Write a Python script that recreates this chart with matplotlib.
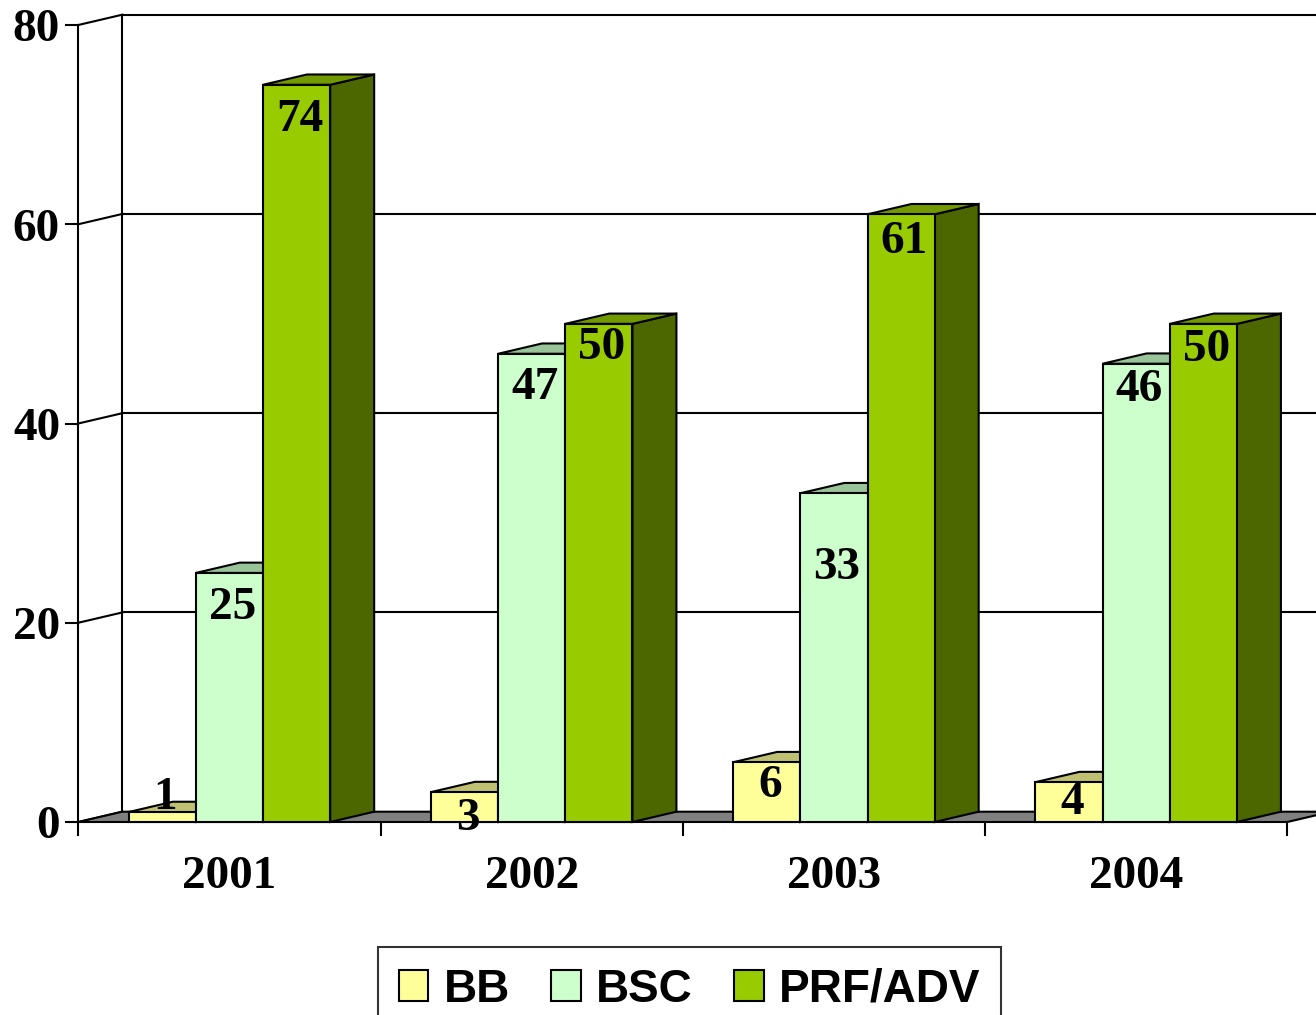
import matplotlib
matplotlib.use('Agg')
import matplotlib.pyplot as plt
from matplotlib.patches import Polygon, Patch

# ---------------- data ----------------
years = ['2001', '2002', '2003', '2004']
series_names = ['BB', 'BSC', 'PRF/ADV']
bb = [1, 3, 6, 4]
bsc = [25, 47, 33, 46]
prf = [74, 50, 61, 50]
y_ticks = [0, 20, 40, 60, 80]

# label vertical offsets (value units, label centre relative to bar top)
label_off = [[2.0, -2.2, -1.8, -1.5],
             [-3.0, -2.9, -7.0, -2.1],
             [-3.0, -1.9, -2.2, -2.1]]

# ---------------- style ----------------
front_colors = ['#FFFF99', '#CCFFCC', '#99CC00']
top_colors = ['#C0C073', '#99C499', '#739900']
side_colors = ['#99995C', '#7A997A', '#4C6600']
floor_color = '#808080'
serif = 'Liberation Serif'
sans = 'Liberation Sans'

W, H = 1316, 1015
fig = plt.figure(figsize=(W / 100, H / 100), dpi=100)
ax = fig.add_axes([0, 0, 1, 1])
ax.axis('off')

# pixel -> data mapping (front plane)
PX0, PXU = 78.3, 302.25     # x pixel of category 0, px per category
PY0, PYU = 822.0, 9.9625    # y pixel of value 0, px per value unit
def X(px):
    return (px - PX0) / PXU
def Y(py):
    return (PY0 - py) / PYU
ax.set_xlim(X(0), X(W))
ax.set_ylim(Y(H), Y(0))

DX = 44 / PXU     # depth offset (x)
DY = 10.3 / PYU   # depth offset (y)
LW = 1.5
ncat = len(years)
ymax = y_ticks[-1]

# ---------------- walls & floor ----------------
for v in y_ticks[1:]:
    ax.plot([DX, ncat + DX], [v + DY, v + DY], color='black', lw=LW, zorder=1)
for v in y_ticks:
    ax.plot([0, DX], [v, v + DY], color='black', lw=LW, zorder=1)
    ax.plot([X(66), 0], [v, v], color='black', lw=LW, zorder=1)
ax.plot([DX, DX], [DY, ymax + DY], color='black', lw=LW, zorder=1)
ax.plot([0, 0], [0, ymax], color='black', lw=LW, zorder=1)
floor = Polygon([(0, 0), (ncat, 0), (ncat + DX, DY), (DX, DY)], closed=True,
                facecolor=floor_color, edgecolor='black', lw=LW, zorder=2)
ax.add_patch(floor)
for i in range(ncat + 1):
    ax.plot([i, i], [0, Y(835)], color='black', lw=LW, zorder=2)

# tick labels
for v in y_ticks:
    ax.text(X(60), v - 1.65, str(v), ha='right', va='baseline',
            fontsize=34, fontweight='bold', family=serif, zorder=5)
for i, yr in enumerate(years):
    ax.text(i + 0.5, Y(888), yr, ha='center', va='baseline',
            fontsize=34, fontweight='bold', family=serif, zorder=5)

# ---------------- bars ----------------
data = [bb, bsc, prf]
w = 1.0 / (len(series_names) + 1.5)
z = 3
for i in range(ncat):
    for j, vals in enumerate(data):
        v = vals[i]
        x0 = i + 0.5 - 1.5 * w + j * w
        x1 = x0 + w
        side = Polygon([(x1, 0), (x1 + DX, DY), (x1 + DX, v + DY), (x1, v)],
                       closed=True, facecolor=side_colors[j], edgecolor='black',
                       lw=LW, zorder=z)
        top = Polygon([(x0, v), (x1, v), (x1 + DX, v + DY), (x0 + DX, v + DY)],
                      closed=True, facecolor=top_colors[j], edgecolor='black',
                      lw=LW, zorder=z)
        ax.add_patch(side)
        ax.add_patch(top)
        ax.bar(x0, v, width=w, align='edge', color=front_colors[j],
               edgecolor='black', lw=LW, zorder=z + 0.5)
        z += 1

# data labels on top
for j, vals in enumerate(data):
    for i in range(ncat):
        v = vals[i]
        xc = i + 0.5 - 1.5 * w + j * w + w / 2 + 0.01
        ax.text(xc, v + label_off[j][i] - 1.65, str(v), ha='center', va='baseline',
                fontsize=34, fontweight='bold', family=serif, zorder=100)

# ---------------- legend ----------------
handles = [Patch(facecolor=front_colors[j], edgecolor='black', lw=LW)
           for j in range(len(series_names))]
leg = fig.legend(handles, series_names, loc='upper left',
                 bbox_to_anchor=(378 / W, 1 - 947 / H), ncol=3,
                 prop={'family': sans, 'weight': 'bold', 'size': 33},
                 frameon=True, fancybox=False, shadow=False,
                 handlelength=0.65, handleheight=0.65, handletextpad=0.33,
                 columnspacing=0.9, borderpad=0.45, borderaxespad=0)
leg.get_frame().set_edgecolor('black')
leg.get_frame().set_linewidth(LW)

fig.savefig('out.png', dpi=100)
